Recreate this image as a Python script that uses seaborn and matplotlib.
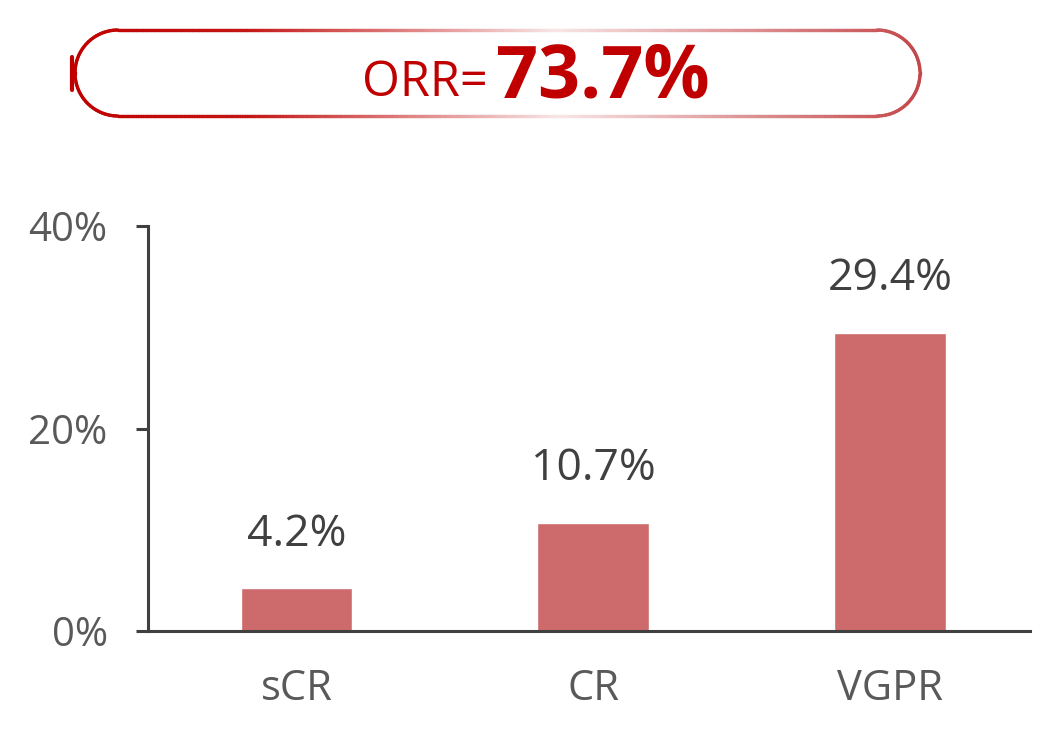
import numpy as np
import pandas as pd
import matplotlib
matplotlib.use("Agg")
import matplotlib.pyplot as plt
from matplotlib.collections import LineCollection
from matplotlib.colors import LinearSegmentedColormap
import seaborn as sns

# ---- data ----
categories = ["sCR", "CR", "VGPR"]
values = [4.2, 10.7, 29.4]
value_labels = ["4.2%", "10.7%", "29.4%"]
y_ticks = [0, 20, 40]
y_tick_labels = ["0%", "20%", "40%"]
orr_prefix = "ORR="
orr_value = "73.7%"

sns.set_theme(style="white")
plt.rcParams["font.family"] = ["Open Sans", "DejaVu Sans"]

W, H = 1048, 733
fig = plt.figure(figsize=(W / 100, H / 100), dpi=100)

ax = fig.add_axes([148 / W, 1 - 631 / H, (1030 - 148) / W, (631 - 226) / H])
df = pd.DataFrame({"cat": categories, "val": values})
sns.barplot(data=df, x="cat", y="val", color="#CD6A6B", saturation=1,
            width=0.377, ax=ax)
ax.set_xlim(-0.5, 2.47)
ax.set_ylim(0, 40)
ax.set_yticks(y_ticks)
ax.set_yticklabels(y_tick_labels)
ax.set_xlabel("")
ax.set_ylabel("")
for s in ["top", "right"]:
    ax.spines[s].set_visible(False)
for s in ["left", "bottom"]:
    ax.spines[s].set_color("#404040")
    ax.spines[s].set_linewidth(2.2)
ax.tick_params(axis="y", direction="out", length=9, width=2.2, color="#404040",
               labelsize=29, labelcolor="#595959", pad=20, left=True)
ax.tick_params(axis="x", length=0, labelsize=30, labelcolor="#595959", pad=27)
for i, (v, lab) in enumerate(zip(values, value_labels)):
    ax.annotate(lab, (i, v), xytext=(0, 23), textcoords="offset points",
                ha="center", va="bottom", fontsize=32, color="#404040")

# ---- banner with gradient border ----
bx = fig.add_axes([0, 0, 1, 1], zorder=5)
bx.set_xlim(0, W)
bx.set_ylim(H, 0)
bx.axis("off")
bx.patch.set_alpha(0)
x0, x1, y0, y1 = 75, 920, 30, 116
r = (y1 - y0) / 2
cy = (y0 + y1) / 2
pts = []
for x in np.linspace(x0 + r, x1 - r, 300):
    pts.append((x, y0))
for t in np.linspace(-np.pi / 2, np.pi / 2, 60):
    pts.append((x1 - r + r * np.cos(t), cy + r * np.sin(t)))
for x in np.linspace(x1 - r, x0 + r, 300):
    pts.append((x, y1))
for t in np.linspace(np.pi / 2, 3 * np.pi / 2, 60):
    pts.append((x0 + r + r * np.cos(t), cy + r * np.sin(t)))
pts = np.array(pts)
segs = np.stack([pts[:-1], pts[1:]], axis=1)
cmap = LinearSegmentedColormap.from_list(
    "g", [(0, "#C00000"), (0.2, "#C41515"), (0.57, "#F8E6E6"), (1.0, "#C4474A")])
xm = (segs[:, 0, 0] + segs[:, 1, 0]) / 2
cols = cmap((xm - x0) / (x1 - x0))
bx.add_collection(LineCollection(segs, colors=cols, linewidths=2.4,
                                 capstyle="round"))
bx.plot([72, 72], [57, 90], color="#C00000", lw=3)
bx.text(488, 96, orr_prefix, ha="right", va="baseline", fontsize=35,
        color="#C00000")
bx.text(496, 97, orr_value, ha="left", va="baseline", fontsize=53,
        fontweight="bold", color="#C00000")
fig.savefig("out.png", dpi=100, facecolor="white")
